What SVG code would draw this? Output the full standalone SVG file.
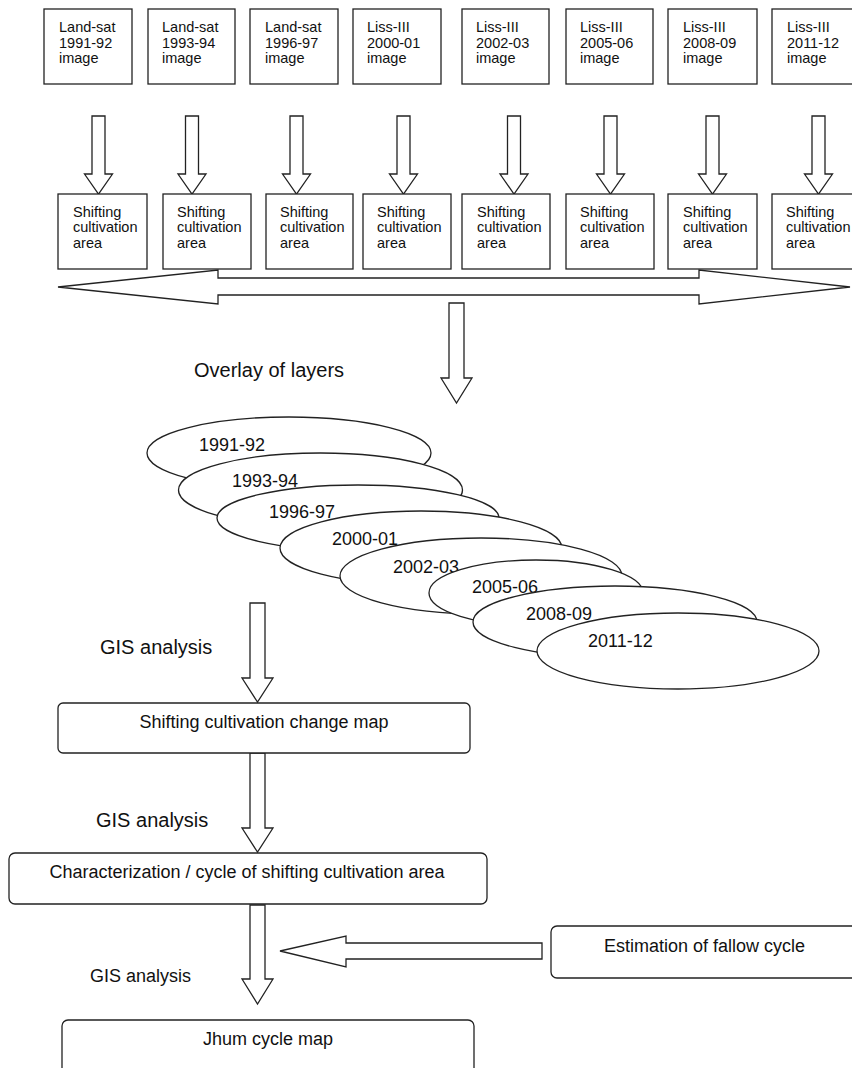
<svg xmlns="http://www.w3.org/2000/svg" width="852" height="1068" viewBox="0 0 852 1068">
<style>
  .box { fill: #fff; stroke: #222; stroke-width: 1.3; }
  .arr { fill: #fff; stroke: #222; stroke-width: 1.3; stroke-linejoin: miter; }
  .ell { fill: #fff; stroke: #222; stroke-width: 1.3; }
  text { font-family: "Liberation Sans", Arial, sans-serif; fill: #111; }
  .s { font-size: 14.5px; }
  .m { font-size: 18px; }
  .l { font-size: 20px; }
</style>
<rect width="852" height="1068" fill="#fff"/>

<g id="connectors">
  <polygon class="arr" points="92,116 105,116 105,174 112.5,174 98.5,194 84.5,174 92,174"/>
  <polygon class="arr" points="185.5,116 198.5,116 198.5,174 206,174 192,194 178,174 185.5,174"/>
  <polygon class="arr" points="290,116 303,116 303,174 310.5,174 296.5,194 282.5,174 290,174"/>
  <polygon class="arr" points="397,116 410,116 410,174 417.5,174 403.5,194 389.5,174 397,174"/>
  <polygon class="arr" points="507.5,116 520.5,116 520.5,174 528,174 514,194 500,174 507.5,174"/>
  <polygon class="arr" points="604,116 617,116 617,174 624.5,174 610.5,194 596.5,174 604,174"/>
  <polygon class="arr" points="706,116 719,116 719,174 726.5,174 712.5,194 698.5,174 706,174"/>
  <polygon class="arr" points="812,116 825,116 825,174 832.5,174 818.5,194 804.5,174 812,174"/>
  <polygon class="arr" points="58,287 218,270 218,278 699,278 699,270 850,287 699,304 699,295 218,295 218,304"/>
  <polygon class="arr" points="449,303 464,303 464,378 472,378 456.5,403 441,378 449,378"/>
  <polygon class="arr" points="250,603 265,603 265,678 273,678 257.5,702 242,678 250,678"/>
  <polygon class="arr" points="250,753 265,753 265,828 273,828 257.5,852 242,828 250,828"/>
  <polygon class="arr" points="250,905 265,905 265,979 273,979 257.5,1004 242,979 250,979"/>
  <polygon class="arr" points="542,943 346,943 346,936 280,951 346,967 346,959 542,959"/>
</g>

<g id="img1"><rect class="box" x="44" y="9" width="88" height="75"/><text class="s" x="59" y="32">Land-sat</text><text class="s" x="59" y="48">1991-92</text><text class="s" x="59" y="63">image</text></g>
<g id="img2"><rect class="box" x="148" y="9" width="87" height="75"/><text class="s" x="162" y="32">Land-sat</text><text class="s" x="162" y="48">1993-94</text><text class="s" x="162" y="63">image</text></g>
<g id="img3"><rect class="box" x="250" y="9" width="88" height="75"/><text class="s" x="265" y="32">Land-sat</text><text class="s" x="265" y="48">1996-97</text><text class="s" x="265" y="63">image</text></g>
<g id="img4"><rect class="box" x="353" y="9" width="88" height="75"/><text class="s" x="367" y="32">Liss-III</text><text class="s" x="367" y="48">2000-01</text><text class="s" x="367" y="63">image</text></g>
<g id="img5"><rect class="box" x="462" y="9" width="87" height="75"/><text class="s" x="476" y="32">Liss-III</text><text class="s" x="476" y="48">2002-03</text><text class="s" x="476" y="63">image</text></g>
<g id="img6"><rect class="box" x="566" y="9" width="87" height="75"/><text class="s" x="580" y="32">Liss-III</text><text class="s" x="580" y="48">2005-06</text><text class="s" x="580" y="63">image</text></g>
<g id="img7"><rect class="box" x="668" y="9" width="89" height="75"/><text class="s" x="683" y="32">Liss-III</text><text class="s" x="683" y="48">2008-09</text><text class="s" x="683" y="63">image</text></g>
<g id="img8"><rect class="box" x="772" y="9" width="88" height="75"/><text class="s" x="787" y="32">Liss-III</text><text class="s" x="787" y="48">2011-12</text><text class="s" x="787" y="63">image</text></g>

<g id="sca1"><rect class="box" x="58" y="194" width="89" height="75"/><text class="s" x="73" y="217">Shifting</text><text class="s" x="73" y="232">cultivation</text><text class="s" x="73" y="248">area</text></g>
<g id="sca2"><rect class="box" x="163" y="194" width="88" height="75"/><text class="s" x="177" y="217">Shifting</text><text class="s" x="177" y="232">cultivation</text><text class="s" x="177" y="248">area</text></g>
<g id="sca3"><rect class="box" x="266" y="194" width="87" height="75"/><text class="s" x="280" y="217">Shifting</text><text class="s" x="280" y="232">cultivation</text><text class="s" x="280" y="248">area</text></g>
<g id="sca4"><rect class="box" x="363" y="194" width="88" height="75"/><text class="s" x="377" y="217">Shifting</text><text class="s" x="377" y="232">cultivation</text><text class="s" x="377" y="248">area</text></g>
<g id="sca5"><rect class="box" x="462" y="194" width="88" height="75"/><text class="s" x="477" y="217">Shifting</text><text class="s" x="477" y="232">cultivation</text><text class="s" x="477" y="248">area</text></g>
<g id="sca6"><rect class="box" x="566" y="194" width="88" height="75"/><text class="s" x="580" y="217">Shifting</text><text class="s" x="580" y="232">cultivation</text><text class="s" x="580" y="248">area</text></g>
<g id="sca7"><rect class="box" x="668" y="194" width="89" height="75"/><text class="s" x="683" y="217">Shifting</text><text class="s" x="683" y="232">cultivation</text><text class="s" x="683" y="248">area</text></g>
<g id="sca8"><rect class="box" x="772" y="194" width="88" height="75"/><text class="s" x="786" y="217">Shifting</text><text class="s" x="786" y="232">cultivation</text><text class="s" x="786" y="248">area</text></g>

<g id="overlay-label"><text class="l" x="194" y="377">Overlay of layers</text></g>

<g id="layers">
  <g id="layer1"><ellipse class="ell" cx="289" cy="453" rx="142" ry="36"/><text class="m" x="199" y="451">1991-92</text></g>
  <g id="layer2"><ellipse class="ell" cx="320.5" cy="490" rx="142" ry="37"/><text class="m" x="232" y="487">1993-94</text></g>
  <g id="layer3"><ellipse class="ell" cx="358" cy="518" rx="141" ry="33"/><text class="m" x="269" y="518">1996-97</text></g>
  <g id="layer4"><ellipse class="ell" cx="421" cy="548" rx="141" ry="37"/><text class="m" x="332" y="545">2000-01</text></g>
  <g id="layer5"><ellipse class="ell" cx="481" cy="576" rx="141" ry="38"/><text class="m" x="393" y="573">2002-03</text></g>
  <g id="layer6"><ellipse class="ell" cx="536" cy="593" rx="107" ry="33"/><text class="m" x="472" y="593">2005-06</text></g>
  <g id="layer7"><ellipse class="ell" cx="615" cy="622" rx="142" ry="36"/><text class="m" x="526" y="620">2008-09</text></g>
  <g id="layer8"><ellipse class="ell" cx="678" cy="651" rx="141" ry="38"/><text class="m" x="588" y="647">2011-12</text></g>
</g>

<g id="gis1"><text class="l" x="100" y="654">GIS analysis</text></g>
<g id="change-map"><rect class="box" x="58" y="703" width="412" height="50" rx="5"/><text class="m" x="264" y="728" text-anchor="middle">Shifting cultivation change map</text></g>
<g id="gis2"><text class="l" x="96" y="827">GIS analysis</text></g>
<g id="characterization"><rect class="box" x="9" y="853" width="478" height="51" rx="6"/><text class="m" x="247" y="878" text-anchor="middle">Characterization / cycle of shifting cultivation area</text></g>
<g id="gis3"><text class="m" x="90" y="982">GIS analysis</text></g>
<g id="fallow"><rect class="box" x="551" y="926" width="320" height="52" rx="6"/><text class="m" x="604" y="952">Estimation of fallow cycle</text></g>
<g id="jhum"><rect class="box" x="62" y="1020" width="412" height="70" rx="6"/><text class="m" x="268" y="1045" text-anchor="middle">Jhum cycle map</text></g>
</svg>
